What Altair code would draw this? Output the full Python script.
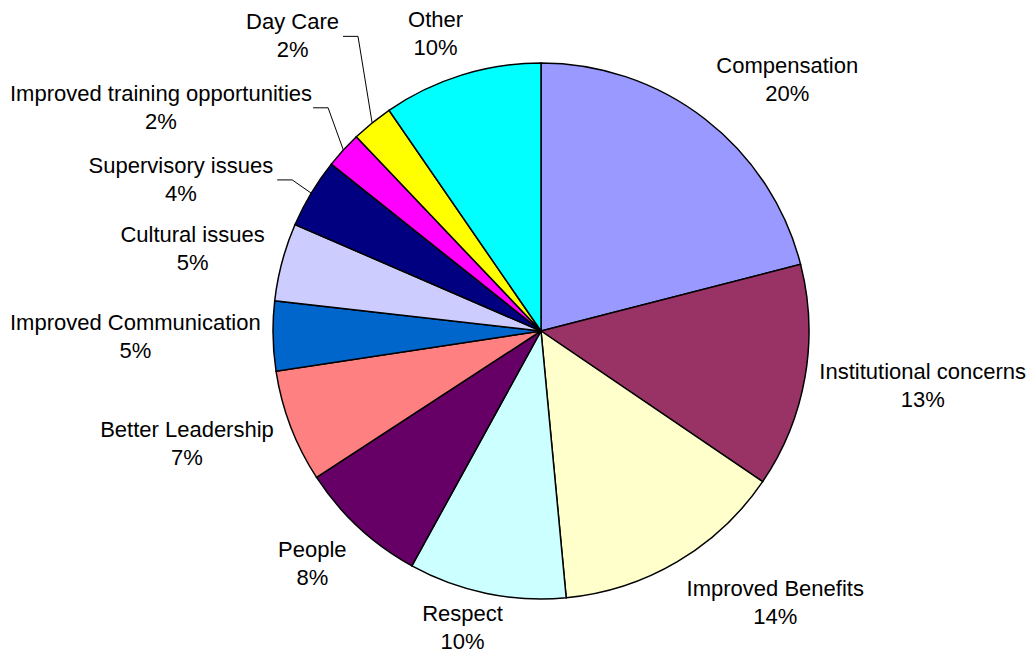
import altair as alt
import pandas as pd

# ---- data ----
categories = ["Compensation", "Institutional concerns", "Improved Benefits", "Respect",
              "People", "Better Leadership", "Improved Communication", "Cultural issues",
              "Supervisory issues", "Improved training opportunities", "Day Care", "Other"]
values = [21.0, 13.5, 14.0, 9.5, 7.8, 6.8, 4.2, 4.7, 4.2, 2.2, 2.5, 9.6]
pct_labels = ["20%", "13%", "14%", "10%", "8%", "7%", "5%", "5%", "4%", "2%", "2%", "10%"]
colors = ["#9999FF", "#993366", "#FFFFCC", "#CCFFFF", "#660066", "#FF8080",
          "#0066CC", "#CCCCFF", "#000080", "#FF00FF", "#FFFF00", "#00FFFF"]

# ---- layout ----
W, H = 1020, 647
CX, CY = 533, 323
R = 268
LR = R + 18          # radius of label anchor points
FONT = 22
LH = 28
HALF_H = 26
# dragged-out label anchors (angle in degrees, radius in px) for the thin slices
leader = {"Supervisory issues": (299.8, 304),
          "Improved training opportunities": (314.4, 319),
          "Day Care": (326.1, 355)}

# Arial / Liberation Sans advance widths (per 1000 em) for label width estimates
AW = {" ": 278, "%": 889, "A": 667, "B": 667, "C": 722, "D": 722, "I": 278, "L": 556,
      "O": 778, "P": 667, "R": 722, "S": 667, "a": 556, "b": 556, "c": 500, "d": 556,
      "e": 556, "f": 278, "g": 556, "h": 556, "i": 222, "l": 222, "m": 833, "n": 556,
      "o": 556, "p": 556, "r": 333, "s": 500, "t": 278, "u": 556, "v": 500, "y": 500}


def text_w(t):
    return sum(AW.get(ch, 556) for ch in t) * FONT / 1000.0


total = sum(values)
df = pd.DataFrame({
    "idx": list(range(len(categories))),
    "category": categories,
    "value": values,
    "label": [f"{c}\n{p}" for c, p in zip(categories, pct_labels)],
    "halfw": [max(text_w(c), text_w(p)) / 2 for c, p in zip(categories, pct_labels)],
    "lead": [c in leader for c in categories],
    "lead_a": [leader.get(c, (0, 0))[0] for c in categories],
    "lead_r": [leader.get(c, (0, 0))[1] for c in categories],
})

base = (
    alt.Chart(df)
    .transform_window(cum="sum(value)", sort=[alt.SortField("idx")], frame=[None, 0])
    .transform_calculate(start="datum.cum - datum.value")
    .transform_calculate(ang=f"(datum.cum - datum.value / 2) / {total} * 2 * PI")
    .transform_calculate(s="sin(datum.ang)")
    .transform_calculate(c="cos(datum.ang)")
    .transform_calculate(la="datum.lead_a * PI / 180")
    .transform_calculate(ex=f"{CX} + {R} * datum.s")
    .transform_calculate(ey=f"{CY} - {R} * datum.c")
    .transform_calculate(p0x=f"{CX} + datum.lead_r * sin(datum.la)")
    .transform_calculate(p0y=f"{CY} - datum.lead_r * cos(datum.la)")
    .transform_calculate(p1x="datum.p0x + 15")
    .transform_calculate(sx="clamp(2.5 * datum.s, -1, 1)")
    .transform_calculate(sy="clamp(1.2 * datum.c, -1, 1)")
    .transform_calculate(
        lx0=f"datum.lead ? (datum.p0x - 4 - datum.halfw) : ({CX} + {LR} * datum.s + datum.sx * datum.halfw)")
    .transform_calculate(lx=f"clamp(datum.lx0, datum.halfw + 2, {W} - 2 - datum.halfw)")
    .transform_calculate(
        lyc=f"datum.lead ? datum.p0y : ({CY} - {LR} * datum.c - datum.sy * {HALF_H})")
    .transform_calculate(ly=f"clamp(datum.lyc, {HALF_H}, {H} - 27) - {LH / 2}")
)

arcs = base.mark_arc(radius=R, stroke="black", strokeWidth=1.5).encode(
    x=alt.value(CX),
    y=alt.value(CY),
    theta=alt.Theta("start:Q", scale=alt.Scale(domain=[0, total]), stack=None),
    theta2="cum:Q",
    color=alt.Color("category:N", scale=alt.Scale(domain=categories, range=colors), legend=None),
)

labels = base.mark_text(font="Liberation Sans", fontSize=FONT, lineBreak="\n", lineHeight=LH,
                        align="center", baseline="middle", color="black").encode(
    x=alt.X("lx:Q", scale=None, axis=None),
    y=alt.Y("ly:Q", scale=None, axis=None),
    text="label:N",
)

lead = base.transform_filter("datum.lead").mark_rule(color="black", strokeWidth=1)
seg1 = lead.encode(x=alt.X("p0x:Q", scale=None, axis=None), y=alt.Y("p0y:Q", scale=None, axis=None),
                   x2="p1x:Q", y2="p0y:Q")
seg2 = lead.encode(x=alt.X("p1x:Q", scale=None, axis=None), y=alt.Y("p0y:Q", scale=None, axis=None),
                   x2="ex:Q", y2="ey:Q")

chart = (
    alt.layer(arcs, seg1, seg2, labels)
    .properties(width=W, height=H, autosize="none", padding=0, background="white")
    .configure_view(stroke=None)
)

chart.save("out.html", embed_options={"renderer": "svg", "actions": False})
